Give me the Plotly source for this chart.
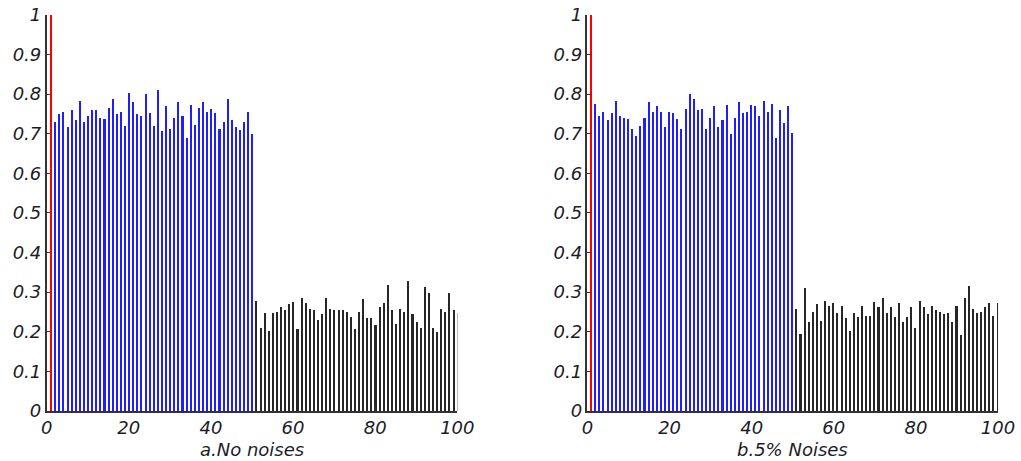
import plotly.graph_objects as go

# Bar positions: 1 reference bar, 49 similar samples, 50 dissimilar samples
red_x = [1]
blue_x = list(range(2, 51))
black_x = list(range(51, 101))

red_a = [1.0]
blue_a = [0.731, 0.749, 0.755, 0.716, 0.759, 0.734, 0.783, 0.731, 0.745, 0.759,
          0.759, 0.741, 0.738, 0.766, 0.787, 0.749, 0.755, 0.720, 0.804, 0.780,
          0.749, 0.744, 0.801, 0.752, 0.720, 0.811, 0.706, 0.770, 0.713, 0.741,
          0.780, 0.745, 0.689, 0.773, 0.721, 0.766, 0.780, 0.755, 0.762, 0.752,
          0.713, 0.731, 0.787, 0.734, 0.716, 0.710, 0.731, 0.755, 0.700]
black_a = [0.279, 0.209, 0.248, 0.203, 0.248, 0.251, 0.262, 0.255, 0.269, 0.276,
           0.206, 0.286, 0.273, 0.258, 0.255, 0.230, 0.245, 0.286, 0.258, 0.255,
           0.255, 0.255, 0.251, 0.237, 0.206, 0.251, 0.283, 0.234, 0.234, 0.216,
           0.262, 0.273, 0.318, 0.255, 0.219, 0.258, 0.251, 0.328, 0.245, 0.224,
           0.209, 0.314, 0.297, 0.209, 0.199, 0.258, 0.251, 0.297, 0.255, 0.248]

red_b = [1.0]
blue_b = [0.776, 0.745, 0.755, 0.734, 0.752, 0.783, 0.745, 0.741, 0.738, 0.713,
          0.695, 0.720, 0.741, 0.780, 0.755, 0.770, 0.755, 0.716, 0.755, 0.752,
          0.738, 0.713, 0.762, 0.801, 0.787, 0.759, 0.762, 0.713, 0.741, 0.770,
          0.716, 0.734, 0.773, 0.700, 0.741, 0.780, 0.752, 0.755, 0.773, 0.770,
          0.745, 0.783, 0.755, 0.776, 0.689, 0.759, 0.728, 0.770, 0.703]
black_b = [0.258, 0.195, 0.311, 0.224, 0.251, 0.269, 0.227, 0.279, 0.266, 0.273,
           0.248, 0.266, 0.234, 0.203, 0.248, 0.237, 0.266, 0.241, 0.241, 0.276,
           0.262, 0.286, 0.248, 0.262, 0.237, 0.273, 0.224, 0.237, 0.262, 0.209,
           0.279, 0.262, 0.245, 0.266, 0.255, 0.251, 0.245, 0.248, 0.224, 0.266,
           0.192, 0.286, 0.315, 0.258, 0.248, 0.251, 0.262, 0.273, 0.241, 0.273]

panel_titles = ["a.No noises", "b.5% Noises"]
y_ticks = [0, 0.1, 0.2, 0.3, 0.4, 0.5, 0.6, 0.7, 0.8, 0.9, 1]
y_tick_text = ["0", "0.1", "0.2", "0.3", "0.4", "0.5", "0.6", "0.7", "0.8", "0.9", "1"]
x_ticks = [0, 20, 40, 60, 80, 100]
x_tick_text = ["0", "20", "40", "60", "80", "100"]

FONT = "DejaVu Sans"
TXT = "#1c1c28"
BAR_W = 0.5

fig = go.Figure()

panels = [
    ("x", "y", red_a, blue_a, black_a),
    ("x2", "y2", red_b, blue_b, black_b),
]
for xa, ya, r, b, k in panels:
    for xs, ys, col in ((red_x, r, "#ff0000"), (blue_x, b, "#1e1eff"), (black_x, k, "#262626")):
        fig.add_trace(go.Bar(x=xs, y=ys, width=BAR_W, xaxis=xa, yaxis=ya,
                             marker=dict(color=col, line=dict(width=0)),
                             showlegend=False, hoverinfo="x+y"))

axis_common = dict(
    showgrid=False, zeroline=False, showline=True, linecolor="#333333", linewidth=1.5,
    ticks="inside", ticklen=4, tickwidth=1, tickcolor="#333333", automargin=False,
    tickfont=dict(family=FONT, size=18, color=TXT), mirror=False,
)

italic = lambda items: ["<i>%s</i>" % t for t in items]

fig.update_layout(
    width=1021, height=461,
    margin=dict(l=0, r=0, t=0, b=0, autoexpand=False),
    paper_bgcolor="white", plot_bgcolor="white",
    bargap=0,
    xaxis=dict(domain=[0.0457, 0.4479], range=[0, 100], tickvals=x_ticks,
               ticktext=italic(x_tick_text), anchor="y", **axis_common),
    yaxis=dict(domain=[0.1085, 0.9675], range=[0, 1], tickvals=y_ticks,
               ticktext=italic(y_tick_text), anchor="x", **axis_common),
    xaxis2=dict(domain=[0.5754, 0.9775], range=[0, 100], tickvals=x_ticks,
                ticktext=italic(x_tick_text), anchor="y2", **axis_common),
    yaxis2=dict(domain=[0.1085, 0.9675], range=[0, 1], tickvals=y_ticks,
                ticktext=italic(y_tick_text), anchor="x2", **axis_common),
)

for i, title in enumerate(panel_titles):
    xref = "x domain" if i == 0 else "x2 domain"
    fig.add_annotation(text="<i>%s</i>" % title, xref=xref, yref="paper",
                       x=0.5, y=0.026, xanchor="center", yanchor="middle",
                       showarrow=False, font=dict(family=FONT, size=18, color=TXT))

fig.write_html("out.html")
